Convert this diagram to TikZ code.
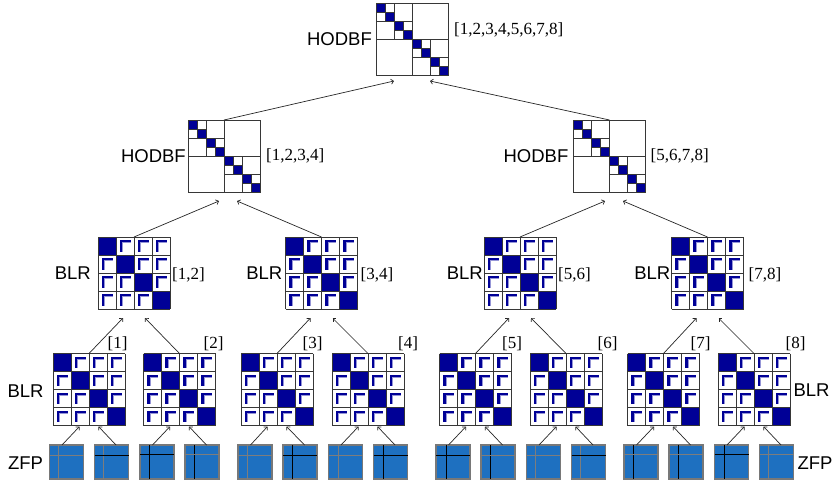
\documentclass[tikz,border=0pt]{standalone}
\usepackage{fontspec}
\setmainfont{Liberation Serif}
\setsansfont{Liberation Sans}
\usetikzlibrary{positioning,arrows.meta}
\definecolor{navy}{RGB}{0,0,150}
\definecolor{lrshade}{RGB}{150,150,215}
\definecolor{zfpblue}{RGB}{30,112,192}
\definecolor{zfpedge}{RGB}{120,120,120}
\definecolor{zgrey}{RGB}{125,125,125}
\definecolor{gridgray}{RGB}{55,55,55}
\tikzset{
    mat/.style={minimum size=72pt, inner sep=0pt, outer sep=0pt},
    zfp/.style={%
        draw=zfpedge, fill=zfpblue,
        line width=1.3pt,
        minimum size=34pt,
        inner sep=0pt, outer sep=0pt
        },
    tag/.style={font=\sffamily\fontsize{18.5}{20}\selectfont, inner sep=0pt},
    idx/.style={font=\fontsize{17}{18}\selectfont, inner sep=0pt},
    mline/.style={draw=gridgray, line width=0.9pt},
    link/.style={->, line width=0.7pt, draw=black!85},
    >={Straight Barb[length=2.5pt,width=5pt]}
}
% hierarchical off-diagonal blocks
\newcommand{\hodbfcells}[1]{%
  \foreach \k in {0,...,7}
    \fill[navy] ([shift={(9*\k,9*\k)}]#1.north west) rectangle ++(9,9);
  \foreach \a/\s in {0/72, 0/36, 36/36, 0/18, 18/18, 36/18, 54/18}{
    \draw[mline] ([shift={(\a+\s/2,\a)}]#1.north west) -- ++(0,\s);
    \draw[mline] ([shift={(\a,\a+\s/2)}]#1.north west) -- ++(\s,0);
  }
  \draw[mline] (#1.north west) rectangle (#1.south east);
}
% block low-rank 4x4
\newcommand{\blrcells}[1]{%
  \foreach \i in {0,...,3}{
    \foreach \j in {0,...,3}{
      \ifnum\i=\j\relax
        \fill[navy] ([shift={(18*\j,18*\i)}]#1.north west) rectangle ++(18,18);
      \else
        \fill[lrshade] ([shift={(18*\j+5.8,18*\i+5)}]#1.north west) rectangle ++(1.3,9.8);
        \fill[lrshade] ([shift={(18*\j+6,18*\i+5)}]#1.north west) rectangle ++(8.8,1.3);
        \fill[navy] ([shift={(18*\j+3.8,18*\i+3)}]#1.north west) rectangle ++(2.3,11.8);
        \fill[navy] ([shift={(18*\j+3.8,18*\i+3)}]#1.north west) rectangle ++(11,2.3);
      \fi
    }
  }
  \foreach \k in {0,18,...,72}{
    \draw[mline] ([xshift=\k pt]#1.north west) -- ([xshift=\k pt]#1.south west);
    \draw[mline] ([yshift=-\k pt]#1.north west) -- ([yshift=-\k pt]#1.north east);
  }
}
\begin{document}
\begin{tikzpicture}[x=1pt, y=-1pt]
\useasboundingbox (0,0) rectangle (832,483);

% HODBF levels
\node[mat] (H0) at (412,39) {};
\node[mat] (H1) at (224,156) {};
\node[mat] (H2) at (609.5,156) {};
\hodbfcells{H0}
\hodbfcells{H1}
\hodbfcells{H2}

\node[tag, left=4pt of H0] (tH0) {HODBF};
\node[idx, right=6pt of H0, yshift=9pt] (iH0) {[1,2,3,4,5,6,7,8]};
\node[tag, left=2pt of H1] (tH1) {HODBF};
\node[idx, right=6pt of H1] (iH1) {[1,2,3,4]};
\node[tag, left=5pt of H2] (tH2) {HODBF};
\node[idx, right=5pt of H2] (iH2) {[5,6,7,8]};

% BLR merged
\node[mat] (B1) at (134,273) {};
\node[mat] (B2) at (321.5,273) {};
\node[mat] (B3) at (520,273) {};
\node[mat] (B4) at (707.5,273) {};
\foreach \m in {B1,B2,B3,B4} \blrcells{\m};

\node[tag, left=7pt of B1] (tB1) {BLR};
\node[idx, right=2pt of B1, yshift=-2pt] (iB1) {[1,2]};
\node[tag, left=3pt of B2] (tB2) {BLR};
\node[idx, right=3pt of B2, yshift=-2pt] (iB2) {[3,4]};
\node[tag, left=1pt of B3] (tB3) {BLR};
\node[idx, right=2pt of B3, yshift=-2pt] (iB3) {[5,6]};
\node[tag, left=1pt of B4] (tB4) {BLR};
\node[idx, right=5pt of B4, yshift=-2pt] (iB4) {[7,8]};

% BLR leaves
\foreach \k/\x in {1/89, 2/179.5, 3/277, 4/368, 5/475.5, 6/566, 7/663.5, 8/754}
  \node[mat] (L\k) at (\x,389.5) {};
\foreach \m in {L1,L2,L3,L4,L5,L6,L7,L8} \blrcells{\m};

\foreach \k/\x in {1/117.5, 2/213.5, 3/312.5, 4/408, 5/512, 6/607.5, 7/700.5, 8/795.5}
  \node[idx] (iL\k) at (\x,343.5) {[\k]};
\node[tag] (tLl) at (25.5,391) {BLR};
\node[tag] (tLr) at (811.5,390) {BLR};

% ZFP tiles
\foreach \n/\x/\v/\h/\cv/\ch in {1/66.5/9/10/zgrey/zgrey, 2/111.5/9/10/zgrey/black,
    3/157/9/9/black/black, 4/202/9/9/black/zgrey, 5/255/9/10/zgrey/zgrey,
    6/300/9/10/black/black, 7/345.5/10/10/zgrey/zgrey, 8/390.5/10/10/black/black,
    9/453/10/10/black/black, 10/498/9/10/black/zgrey, 11/543.5/9/10/zgrey/zgrey,
    12/588.5/9/10/zgrey/black, 13/641/9/9/black/zgrey, 14/686/9/9/black/zgrey,
    15/731.5/10/9/black/black, 16/776.5/9/9/zgrey/zgrey}{
  \node[zfp] (Z\n) at (\x,462) {};
  \draw[\cv, line width=0.8pt] ([xshift=\v pt]Z\n.north west) -- ([xshift=\v pt]Z\n.south west);
  \draw[\ch, line width=0.8pt] ([yshift=-\h pt]Z\n.north west) -- ([yshift=-\h pt]Z\n.north east);
}
\node[tag] (tZl) at (25.5,463) {ZFP};
\node[tag] (tZr) at (815,463) {ZFP};

% connectors
\draw[link] ([xshift=-4.5pt]Z1.north) -- ([xshift=-9.5pt,yshift=-1pt]L1.south);
\draw[link] ([xshift=4.5pt]Z2.north) -- ([xshift=9.5pt,yshift=-1pt]L1.south);
\draw[link] ([xshift=-4.5pt]Z3.north) -- ([xshift=-9.5pt,yshift=-1pt]L2.south);
\draw[link] ([xshift=4.5pt]Z4.north) -- ([xshift=9.5pt,yshift=-1pt]L2.south);
\draw[link] ([xshift=-4.5pt]Z5.north) -- ([xshift=-9.5pt,yshift=-1pt]L3.south);
\draw[link] ([xshift=4.5pt]Z6.north) -- ([xshift=9.5pt,yshift=-1pt]L3.south);
\draw[link] ([xshift=-4.5pt]Z7.north) -- ([xshift=-9.5pt,yshift=-1pt]L4.south);
\draw[link] ([xshift=4.5pt]Z8.north) -- ([xshift=9.5pt,yshift=-1pt]L4.south);
\draw[link] ([xshift=-4.5pt]Z9.north) -- ([xshift=-9.5pt,yshift=-1pt]L5.south);
\draw[link] ([xshift=4.5pt]Z10.north) -- ([xshift=9.5pt,yshift=-1pt]L5.south);
\draw[link] ([xshift=-4.5pt]Z11.north) -- ([xshift=-9.5pt,yshift=-1pt]L6.south);
\draw[link] ([xshift=4.5pt]Z12.north) -- ([xshift=9.5pt,yshift=-1pt]L6.south);
\draw[link] ([xshift=-4.5pt]Z13.north) -- ([xshift=-9.5pt,yshift=-1pt]L7.south);
\draw[link] ([xshift=4.5pt]Z14.north) -- ([xshift=9.5pt,yshift=-1pt]L7.south);
\draw[link] ([xshift=-4.5pt]Z15.north) -- ([xshift=-9.5pt,yshift=-1pt]L8.south);
\draw[link] ([xshift=4.5pt]Z16.north) -- ([xshift=9.5pt,yshift=-1pt]L8.south);

\draw[link] (L1.north) -- ([xshift=-11pt,yshift=-9pt]B1.south);
\draw[link] (L2.north) -- ([xshift=11pt,yshift=-9pt]B1.south);
\draw[link] (L3.north) -- ([xshift=-11pt,yshift=-9pt]B2.south);
\draw[link] (L4.north) -- ([xshift=11pt,yshift=-9pt]B2.south);
\draw[link] (L5.north) -- ([xshift=-11pt,yshift=-9pt]B3.south);
\draw[link] (L6.north) -- ([xshift=11pt,yshift=-9pt]B3.south);
\draw[link] (L7.north) -- ([xshift=-11pt,yshift=-9pt]B4.south);
\draw[link] (L8.north) -- ([xshift=11pt,yshift=-9pt]B4.south);

\draw[link] (B1.north) -- ([xshift=-5pt,yshift=-9pt]H1.south);
\draw[link] (B2.north) -- ([xshift=13pt,yshift=-9pt]H1.south);
\draw[link] (B3.north) -- ([xshift=-4.5pt,yshift=-9pt]H2.south);
\draw[link] (B4.north) -- ([xshift=13.5pt,yshift=-9pt]H2.south);

\draw[link] (H1.north) -- ([xshift=-18pt,yshift=-6pt]H0.south);
\draw[link] (H2.north) -- ([xshift=18pt,yshift=-6pt]H0.south);

\end{tikzpicture}
\end{document}
